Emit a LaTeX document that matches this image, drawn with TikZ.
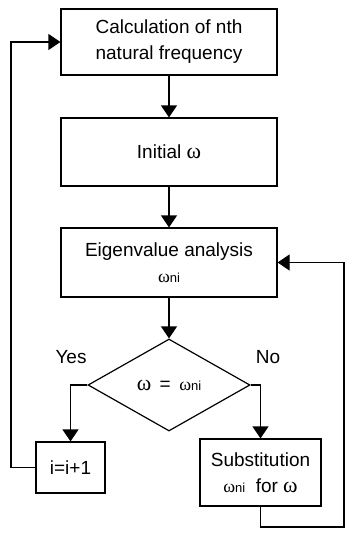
\documentclass[tikz,border=0pt]{standalone}
\usepackage{fontspec}
\setmainfont{Liberation Sans}
\newfontfamily\grk{Liberation Serif}
\usetikzlibrary{shapes.geometric,arrows.meta}
\newcommand{\om}{{\fontsize{22}{22}\selectfont\grk ω}}
\newcommand{\omni}{{\fontsize{18}{18}\selectfont\grk ω}{\fontsize{13}{13}\selectfont ni}}
\tikzset{
  txt/.style={font=\fontsize{19}{22}\selectfont},
  box/.style={draw, line width=1.2pt, txt, align=center, inner sep=0pt},
  arr/.style={line width=1.2pt, -{Triangle[width=16pt,length=12pt]}},
}
\begin{document}
\begin{tikzpicture}[x=1pt,y=-1pt]
\useasboundingbox (0,0) rectangle (345,533);
\node[box, minimum width=216, minimum height=66] (b1) at (169,42) {Calculation of nth\\[4pt]natural frequency};
\node[box, minimum width=216, minimum height=68] (b2) at (169,152) {Initial \om};
\node[box, minimum width=216, minimum height=69] (b3) at (169,262.5) {Eigenvalue analysis\\[4pt]\omni};
\node[draw, line width=1.2pt, diamond, aspect=1.76, inner sep=0pt, minimum width=162, minimum height=92, txt] (d) at (169,385) {\om\ \,=\ \,\omni};
\node[box, minimum width=69, minimum height=51] (b4) at (70.5,467.5) {i=i+1};
\node[box, minimum width=121, minimum height=67] (b5) at (260.5,472.5) {Substitution\\[4pt]\omni\ \ for \om};
\node[txt] (yes) at (71,357) {Yes};
\node[txt] (no) at (268,357) {No};
\coordinate (fl) at (11,0);
\coordinate (fr) at (344,527);
\draw[arr] (b1) -- (b2);
\draw[arr] (b2) -- (b3);
\draw[arr] (b3) -- (d);
\draw[arr] (d.west) -| (b4.north);
\draw[arr] (d.east) -| (b5.north);
\draw[arr] (b4.west) -- (fl |- b4.west) |- (b1.west);
\draw[arr] (b5.south) |- (fr) |- (b3.east);
\end{tikzpicture}
\end{document}
